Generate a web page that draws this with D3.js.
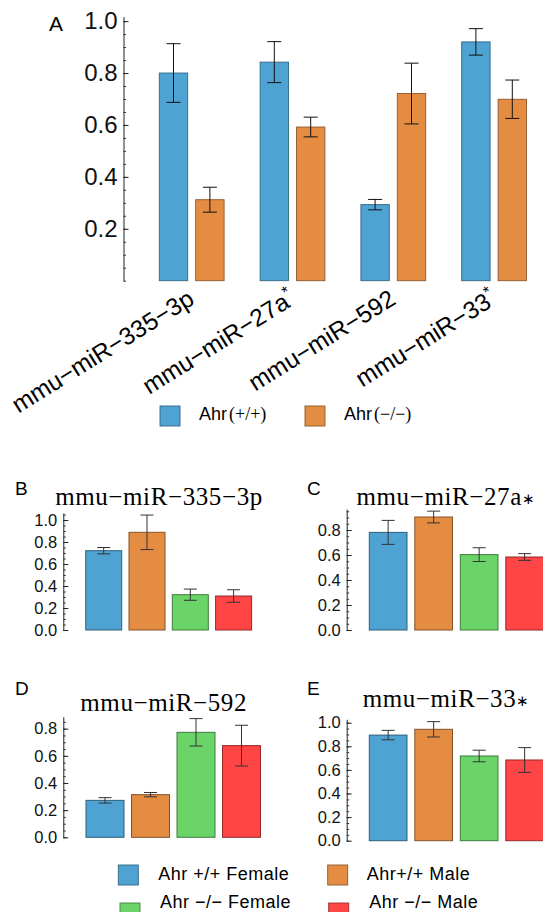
<!DOCTYPE html>
<html>
<head>
<meta charset="utf-8">
<script src="https://cdn.jsdelivr.net/npm/d3@7"></script>
<style>
  body { margin: 0; background: #fff; }
  text { font-family: "Liberation Sans", Arial, sans-serif; }
  text.serif, tspan.serif { font-family: "Liberation Serif", "Times New Roman", serif; }
</style>
</head>
<body>
<script>
var width = 543, height = 912;

// panel A data
var mirs = ["mmu−miR−335−3p", "mmu−miR−27a", "mmu−miR−592", "mmu−miR−33"];
var mirStar = ["", "*", "", "*"];
var genotypes = ["Ahr(+/+)", "Ahr(−/−)"];
var wtMean = [0.800, 0.842, 0.293, 0.920];
var wtErr = [0.113, 0.079, 0.020, 0.051];
var koMean = [0.312, 0.592, 0.721, 0.699];
var koErr = [0.048, 0.038, 0.117, 0.074];

// panels B-E data
var groups = ["Ahr +/+ Female", "Ahr+/+ Male", "Ahr −/− Female", "Ahr −/− Male"];
var mean335 = [0.721, 0.888, 0.321, 0.309];
var err335 = [0.029, 0.157, 0.051, 0.057];
var mean27a = [0.781, 0.904, 0.603, 0.584];
var err27a = [0.096, 0.047, 0.055, 0.027];
var mean592 = [0.272, 0.314, 0.773, 0.675];
var err592 = [0.020, 0.016, 0.101, 0.150];
var mean33 = [0.895, 0.944, 0.718, 0.684];
var err33 = [0.040, 0.065, 0.049, 0.105];

var colors = ["#4ea3d2", "#e38c42", "#6bd468", "#ff4545"];

var svg = d3.select("body")
  .append("svg")
  .attr("width", width)
  .attr("height", height);

function drawYAxis(g, y, x, majorVals, fontSize, pad) {
  var minor = d3.range(0, y.domain()[1] + 0.001, 0.05);
  g.append("g")
    .attr("transform", "translate(" + x + ",0)")
    .call(d3.axisLeft(y).tickValues(minor).tickSizeInner(-2.5).tickSizeOuter(0).tickFormat(""))
    .call(function(a) { a.select(".domain").attr("stroke", "#222"); a.selectAll("line").attr("stroke", "#333"); });
  g.append("g")
    .attr("transform", "translate(" + x + ",0)")
    .call(d3.axisLeft(y).tickValues(majorVals).tickSizeInner(-5).tickSizeOuter(0).tickPadding(pad).tickFormat(d3.format(".1f")))
    .call(function(a) {
      a.select(".domain").remove();
      a.selectAll("line").attr("stroke", "#222");
      a.selectAll("text").attr("font-size", fontSize).attr("fill", "#111")
        .style("font-family", "'Liberation Sans', Arial, sans-serif");
    });
}

function drawErr(g, cx, y, m, e, cap, col) {
  g.append("line").attr("x1", cx).attr("x2", cx).attr("y1", y(m + e)).attr("y2", y(m - e))
    .attr("stroke", col).attr("stroke-width", 1);
  [m + e, m - e].forEach(function(v) {
    g.append("line").attr("x1", cx - cap / 2).attr("x2", cx + cap / 2).attr("y1", y(v)).attr("y2", y(v))
      .attr("stroke", col).attr("stroke-width", 1);
  });
}

// ---------- panel A ----------
var yA = d3.scaleLinear().domain([0, 1.017]).range([280.7, 16.7]);
var xA = d3.scaleBand().domain(mirs).range([159.3, 159.3 + 4 * 100.8 - 36]).paddingInner(36 / 100.8);
var xGeno = d3.scaleBand().domain(genotypes).range([0, xA.bandwidth()]).paddingInner(8 / 36.4);

var gA = svg.append("g");
gA.append("text").attr("x", 49).attr("y", 31).attr("font-size", 21).text("A");
drawYAxis(gA, yA, 123.5, [0.2, 0.4, 0.6, 0.8, 1.0], 24, 6);

mirs.forEach(function(m, i) {
  var vals = [[wtMean[i], wtErr[i]], [koMean[i], koErr[i]]];
  vals.forEach(function(v, j) {
    var x0 = xA(m) + xGeno(genotypes[j]);
    gA.append("rect")
      .attr("x", x0).attr("y", yA(v[0]))
      .attr("width", xGeno.bandwidth()).attr("height", yA(0) - yA(v[0]))
      .attr("fill", colors[j])
      .attr("stroke", d3.color(colors[j]).darker(1.3))
      .attr("stroke-width", 0.9);
    drawErr(gA, x0 + xGeno.bandwidth() / 2, yA, v[0], v[1], 14, "#111");
  });
  var lab = gA.append("text")
    .attr("text-anchor", "end")
    .attr("font-size", 24.5)
    .attr("transform", "translate(" + (xA(m) + xA.bandwidth() / 2 + 4) + ",303) rotate(-32)")
    .text(m);
  if (mirStar[i]) lab.append("tspan").attr("font-size", 16).attr("dy", -10).text(mirStar[i]);
});

// legend A
genotypes.forEach(function(gn, j) {
  var lx = [160, 305][j];
  gA.append("rect").attr("x", lx).attr("y", 406).attr("width", 20).attr("height", 20)
    .attr("fill", colors[j]).attr("stroke", d3.color(colors[j]).darker(1.3)).attr("stroke-width", 0.9);
  var t = gA.append("text").attr("x", lx + 39).attr("y", 420).attr("font-size", 18).text("Ahr");
  t.append("tspan").attr("class", "serif")
    .attr("dx", 2).attr("font-size", 18).text(gn.slice(3));
});

// ---------- panels B-E ----------
var panels = [
  { letter: "B", title: "mmu−miR−335−3p", star: "", means: mean335, errs: err335,
    lx: 15, ly: 495, tx: 159, ty: 505, ax: 63.3, y0: 630, per: 110, top: 513, bx: 85.7, step: 43.3, bw: 36,
    ticks: [0, 0.2, 0.4, 0.6, 0.8, 1.0] },
  { letter: "C", title: "mmu−miR−27a", star: "∗", means: mean27a, errs: err27a,
    lx: 307, ly: 495, tx: 446, ty: 505, ax: 346.7, y0: 630, per: 125, top: 509, bx: 369.3, step: 45.5, bw: 37.7,
    ticks: [0, 0.2, 0.4, 0.6, 0.8] },
  { letter: "D", title: "mmu−miR−592", star: "", means: mean592, errs: err592,
    lx: 15, ly: 695, tx: 163.7, ty: 711, ax: 63.3, y0: 837.3, per: 135.8, top: 716.7, bx: 86, step: 45.5, bw: 38,
    ticks: [0, 0.2, 0.4, 0.6, 0.8] },
  { letter: "E", title: "mmu−miR−33", star: "∗", means: mean33, errs: err33,
    lx: 307, ly: 695, tx: 446.3, ty: 707, ax: 346.7, y0: 840.7, per: 118, top: 719.3, bx: 369.3, step: 45.5, bw: 37.7,
    ticks: [0, 0.2, 0.4, 0.6, 0.8, 1.0] }
];

panels.forEach(function(p, k) {
  var g = svg.append("g");
  var y = d3.scaleLinear().domain([0, (p.y0 - p.top) / p.per]).range([p.y0, p.top]);
  var gap = p.step - p.bw;
  var x = d3.scaleBand().domain(groups).range([p.bx, p.bx + 4 * p.step - gap]).paddingInner(gap / p.step);

  g.append("text").attr("x", p.lx).attr("y", p.ly).attr("font-size", 19).text(p.letter);
  var tt = g.append("text").attr("class", "serif")
    .attr("x", p.tx).attr("y", p.ty).attr("text-anchor", "middle").attr("font-size", 25)
    .attr("letter-spacing", 0.6).text(p.title);
  if (p.star) tt.append("tspan").attr("font-size", 15).attr("dy", -1).text(p.star);

  drawYAxis(g, y, p.ax, p.ticks, 16.5, 6);

  groups.forEach(function(gr, j) {
    g.append("rect")
      .attr("x", x(gr)).attr("y", y(p.means[j]))
      .attr("width", x.bandwidth()).attr("height", y(0) - y(p.means[j]))
      .attr("fill", colors[j])
      .attr("stroke", d3.color(colors[j]).darker(1.5))
      .attr("stroke-width", 1);
    drawErr(g, x(gr) + x.bandwidth() / 2, y, p.means[j], p.errs[j], 13, "#333");
  });
});

// bottom legend
var legPos = [[118.3, 865, 158.3, 880], [327.7, 865, 366.7, 880], [120, 903, 160, 908], [328.7, 903, 369.3, 908]];
groups.forEach(function(gr, j) {
  var lp = legPos[j];
  svg.append("rect").attr("x", lp[0]).attr("y", lp[1]).attr("width", 20).attr("height", 20)
    .attr("fill", colors[j]).attr("stroke", d3.color(colors[j]).darker(1.3)).attr("stroke-width", 0.9);
  svg.append("text").attr("x", lp[2]).attr("y", lp[3]).attr("font-size", 18)
    .attr("letter-spacing", 0.5).text(gr);
});
</script>
</body>
</html>
